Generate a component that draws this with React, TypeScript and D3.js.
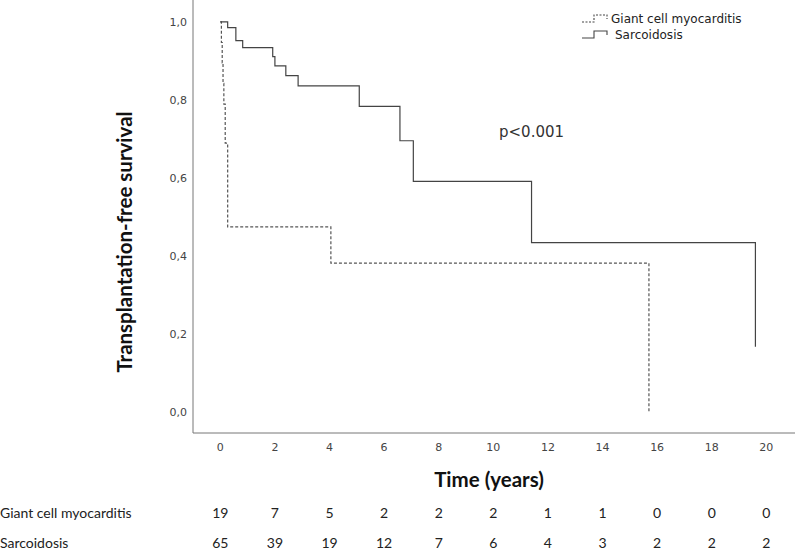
import { useEffect, useRef } from 'react'
import * as d3 from 'd3'

// Kaplan-Meier steps
const gcmTimes = [0, 0.04, 0.07, 0.1, 0.13, 0.18, 0.27, 4.05, 15.7]
const gcmSurv = [1.0, 0.947, 0.895, 0.842, 0.789, 0.689, 0.474, 0.381, 0.0]

const sarcTimes = [0, 0.27, 0.57, 0.82, 1.92, 2.0, 2.4, 2.85, 5.09, 6.58, 7.07, 11.4, 19.6]
const sarcSurv = [1.0, 0.985, 0.952, 0.934, 0.911, 0.887, 0.862, 0.836, 0.783, 0.695, 0.591, 0.434, 0.167]

const xTicks = [0, 2, 4, 6, 8, 10, 12, 14, 16, 18, 20]
const yTicks = [0, 0.2, 0.4, 0.6, 0.8, 1.0]

const groups = ['Giant cell myocarditis', 'Sarcoidosis']
const gcmAtRisk = [19, 7, 5, 2, 2, 2, 1, 1, 0, 0, 0]
const sarcAtRisk = [65, 39, 19, 12, 7, 6, 4, 3, 2, 2, 2]

const W = 800
const H = 552

export default function App() {
  const svgRef = useRef<SVGSVGElement>(null)

  useEffect(() => {
    if (!svgRef.current) return
    const svg = d3.select(svgRef.current)
    svg.selectAll('*').remove()

    const x = d3.scaleLinear().domain([-1, 21.05]).range([193, 795])
    const y = d3.scaleLinear().domain([-0.0545, 1.056]).range([433, 0])

    const tickFont = 'DejaVu Sans, sans-serif'
    const titleFont = 'Lato, "Open Sans", sans-serif'

    // axes lines
    svg.append('line')
      .attr('x1', x(-1)).attr('x2', x(-1))
      .attr('y1', y(1.056)).attr('y2', y(-0.0545))
      .attr('stroke', '#777').attr('stroke-width', 1)
    svg.append('line')
      .attr('x1', x(-1)).attr('x2', x(21.05))
      .attr('y1', y(-0.0545)).attr('y2', y(-0.0545))
      .attr('stroke', '#777').attr('stroke-width', 1)

    // tick labels
    svg.append('g').selectAll('text')
      .data(yTicks)
      .enter().append('text')
      .attr('x', 187)
      .attr('y', d => y(d))
      .attr('dy', '0.35em')
      .attr('text-anchor', 'end')
      .style('font-family', tickFont)
      .style('font-size', '11px')
      .style('fill', '#444')
      .text(d => d3.format('.1f')(d).replace('.', ','))

    svg.append('g').selectAll('text')
      .data(xTicks)
      .enter().append('text')
      .attr('x', d => x(d))
      .attr('y', 451)
      .attr('text-anchor', 'middle')
      .style('font-family', tickFont)
      .style('font-size', '11px')
      .style('fill', '#444')
      .text(d => d)

    // axis titles
    svg.append('text')
      .attr('transform', `translate(132, 242) rotate(-90)`)
      .attr('text-anchor', 'middle')
      .style('font-family', titleFont)
      .style('font-weight', 'bold')
      .style('font-size', '20.5px')
      .style('fill', '#111')
      .text('Transplantation-free survival')

    svg.append('text')
      .attr('x', 489)
      .attr('y', 487)
      .attr('text-anchor', 'middle')
      .style('font-family', titleFont)
      .style('font-weight', 'bold')
      .style('font-size', '20.5px')
      .style('fill', '#111')
      .text('Time (years)')

    // curves
    const line = d3.line<[number, number]>()
      .x(d => x(d[0]))
      .y(d => y(d[1]))
      .curve(d3.curveStepAfter)

    const gcmPts = gcmTimes.map((t, i) => [t, gcmSurv[i]] as [number, number])
    const sarcPts = sarcTimes.map((t, i) => [t, sarcSurv[i]] as [number, number])

    svg.append('path')
      .attr('d', line(gcmPts))
      .attr('fill', 'none')
      .attr('stroke', '#555')
      .attr('stroke-width', 1.2)
      .attr('stroke-dasharray', '3,2')

    svg.append('path')
      .attr('d', line(sarcPts))
      .attr('fill', 'none')
      .attr('stroke', '#444')
      .attr('stroke-width', 1.2)

    // p value
    svg.append('text')
      .attr('x', 499)
      .attr('y', 137)
      .style('font-family', tickFont)
      .style('font-size', '15px')
      .style('fill', '#333')
      .text('p<0.001')

    // legend
    const legend = svg.append('g')
    groups.forEach((g, i) => {
      const ly = 22 + i * 16
      const sym = `M582,${ly} H594 V${ly - 7} H607 V${ly - 3}`
      legend.append('path')
        .attr('d', sym)
        .attr('fill', 'none')
        .attr('stroke', '#444')
        .attr('stroke-width', 1.1)
        .attr('stroke-dasharray', i === 0 ? '2,1.5' : null)
      legend.append('text')
        .attr('x', i === 0 ? 611 : 615)
        .attr('y', ly - 3)
        .attr('dy', '0.35em')
        .style('font-family', tickFont)
        .style('font-size', '12px')
        .style('fill', '#222')
        .text(g)
    })

    // numbers at risk
    const rows = [gcmAtRisk, sarcAtRisk]
    rows.forEach((row, i) => {
      const ry = 513 + i * 30
      svg.append('text')
        .attr('x', 0)
        .attr('y', ry)
        .attr('dy', '0.35em')
        .style('font-family', titleFont)
        .style('font-size', '14px')
        .style('fill', '#222')
        .text(groups[i])
      svg.append('g').selectAll('text')
        .data(row)
        .enter().append('text')
        .attr('x', (_, j) => x(xTicks[j]))
        .attr('y', ry)
        .attr('dy', '0.35em')
        .attr('text-anchor', 'middle')
        .style('font-family', titleFont)
        .style('font-size', '14px')
        .style('fill', '#222')
        .text(d => d)
    })
  }, [])

  return (
    <svg
      ref={svgRef}
      width={W}
      height={H}
      style={{ position: 'absolute', left: 0, top: 0, background: '#fff' }}
    />
  )
}
